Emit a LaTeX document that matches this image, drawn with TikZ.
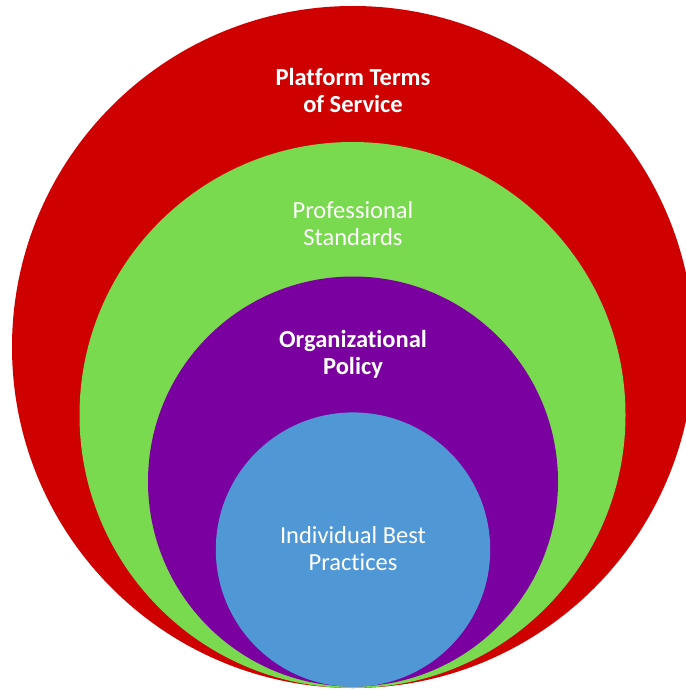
\documentclass[tikz,border=0pt]{standalone}
\usepackage{fontspec}
\setmainfont{Carlito}[Ligatures={NoCommon}]
\definecolor{cred}{RGB}{206,0,0}
\definecolor{cgreen}{RGB}{122,218,79}
\definecolor{cpurple}{RGB}{123,0,160}
\definecolor{cblue}{RGB}{80,151,214}
\tikzset{
  lbl/.style={text=white, align=center, font=\fontsize{24.5}{27}\selectfont, inner sep=0pt},
  lblb/.style={lbl, font=\fontsize{24.5}{27}\selectfont\bfseries}
}
\begin{document}
\begin{tikzpicture}[x=1pt,y=-1pt]
\useasboundingbox (0,0) rectangle (685,690);
\fill[cred] (353,347) circle[radius=341];
\fill[cgreen] (352.5,415) circle[radius=273];
\fill[cpurple] (353,481.5) circle[radius=205];
\fill[cblue] (353,549.6) circle[radius=137.2];
\node[lblb] (tos) at (353,90.5) {Platform Terms\\of Service};
\node[lbl] (ps) at (353,224) {Professional\\Standards};
\node[lblb] (op) at (353,354) {Organizational\\Policy};
\node[lbl] (ibp) at (353,548.5) {Individual Best\\Practices};
\end{tikzpicture}
\end{document}
